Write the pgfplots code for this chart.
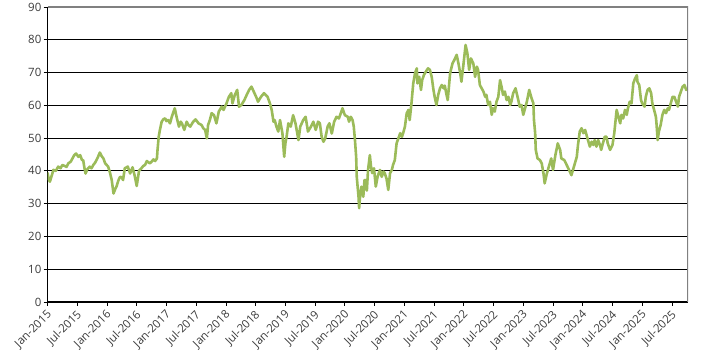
\documentclass[border=0pt]{standalone}
\usepackage{fontspec}
\setmainfont{Open Sans}
\usepackage{pgfplots}
\pgfplotsset{compat=1.18}
\definecolor{linegreen}{RGB}{155,187,89}
\definecolor{bordergray}{RGB}{128,128,128}
\definecolor{labelgray}{RGB}{60,60,60}
\pgfplotstableread{
x y
2015.00 39.5
2015.02 37.5
2015.04 36.7
2015.07 38.5
2015.10 40.3
2015.14 40.0
2015.18 41.3
2015.22 40.8
2015.25 41.8
2015.29 41.5
2015.32 41.2
2015.35 42.3
2015.39 42.8
2015.42 43.8
2015.45 44.8
2015.48 45.3
2015.52 44.3
2015.55 44.8
2015.58 43.3
2015.60 43.3
2015.62 41.0
2015.64 39.2
2015.67 40.5
2015.71 41.3
2015.74 40.8
2015.77 41.8
2015.80 42.5
2015.83 43.5
2015.85 44.3
2015.88 45.6
2015.91 44.5
2015.94 43.8
2015.97 42.3
2016.02 41.3
2016.05 39.5
2016.08 37.2
2016.11 33.1
2016.14 34.5
2016.16 35.2
2016.19 37.0
2016.22 38.2
2016.25 38.0
2016.27 37.2
2016.30 40.8
2016.35 41.3
2016.39 39.2
2016.43 41.1
2016.47 38.2
2016.50 35.4
2016.54 40.1
2016.58 40.8
2016.61 41.5
2016.64 41.8
2016.67 43.0
2016.72 42.3
2016.75 42.8
2016.78 43.5
2016.81 43.0
2016.84 43.8
2016.85 46.4
2016.87 50.4
2016.89 52.5
2016.92 55.0
2016.95 55.8
2016.98 56.0
2017.00 55.2
2017.03 55.5
2017.06 54.5
2017.09 56.5
2017.12 58.1
2017.14 59.1
2017.17 56.5
2017.19 55.0
2017.21 53.5
2017.24 55.0
2017.26 54.5
2017.30 52.5
2017.34 55.0
2017.37 54.0
2017.40 53.5
2017.45 55.0
2017.49 55.7
2017.54 54.5
2017.59 54.0
2017.62 53.0
2017.65 52.5
2017.68 49.9
2017.70 54.0
2017.73 55.5
2017.76 57.6
2017.80 57.0
2017.84 54.5
2017.88 58.1
2017.93 59.6
2017.96 58.6
2018.01 60.6
2018.05 62.6
2018.09 63.7
2018.11 60.6
2018.15 63.2
2018.19 64.7
2018.22 59.6
2018.26 60.1
2018.31 61.6
2018.35 63.2
2018.39 64.7
2018.43 65.7
2018.48 63.7
2018.52 62.1
2018.54 61.1
2018.59 62.6
2018.64 63.7
2018.70 62.6
2018.74 60.6
2018.77 58.6
2018.80 55.0
2018.82 55.5
2018.85 53.5
2018.88 52.0
2018.91 55.5
2018.95 51.5
2018.98 44.3
2019.00 48.4
2019.02 50.4
2019.05 54.5
2019.09 53.5
2019.13 57.0
2019.17 54.5
2019.22 49.4
2019.25 53.5
2019.30 55.5
2019.34 56.5
2019.38 52.0
2019.43 53.5
2019.47 55.0
2019.51 52.5
2019.55 55.0
2019.58 54.5
2019.61 50.4
2019.64 48.9
2019.67 49.9
2019.71 53.5
2019.74 54.5
2019.78 51.4
2019.82 55.0
2019.86 56.5
2019.90 56.0
2019.93 57.5
2019.96 59.1
2020.00 57.0
2020.05 56.5
2020.07 55.0
2020.10 56.5
2020.13 55.5
2020.15 53.5
2020.17 49.4
2020.19 44.3
2020.20 38.2
2020.23 32.1
2020.24 28.6
2020.26 33.1
2020.28 35.2
2020.31 32.1
2020.33 37.2
2020.35 37.2
2020.37 34.0
2020.39 40.3
2020.42 44.8
2020.44 41.3
2020.46 39.3
2020.49 40.8
2020.52 35.2
2020.55 38.2
2020.59 40.3
2020.62 38.2
2020.65 39.8
2020.67 39.3
2020.70 37.7
2020.73 34.2
2020.76 39.3
2020.79 40.3
2020.81 41.8
2020.84 43.3
2020.87 48.4
2020.90 49.9
2020.93 51.5
2020.96 50.4
2020.98 51.5
2021.01 53.5
2021.04 57.6
2021.07 58.6
2021.09 55.5
2021.12 60.6
2021.15 66.7
2021.18 69.8
2021.21 71.3
2021.22 66.7
2021.25 68.7
2021.28 64.7
2021.30 67.7
2021.33 69.3
2021.38 70.8
2021.40 71.3
2021.43 70.8
2021.46 68.7
2021.49 64.7
2021.51 62.6
2021.54 60.1
2021.57 63.2
2021.60 65.2
2021.63 66.2
2021.66 65.2
2021.68 66.0
2021.71 63.2
2021.73 61.6
2021.77 69.8
2021.81 72.8
2021.84 73.8
2021.88 75.4
2021.91 72.8
2021.94 69.8
2021.96 67.2
2021.99 71.8
2022.03 78.4
2022.06 75.9
2022.09 70.8
2022.12 74.3
2022.16 72.8
2022.19 68.7
2022.22 71.8
2022.24 70.8
2022.27 66.2
2022.30 65.2
2022.33 64.2
2022.36 62.6
2022.38 63.2
2022.41 60.1
2022.44 61.1
2022.47 57.1
2022.49 59.1
2022.52 58.1
2022.55 61.1
2022.58 62.6
2022.61 67.7
2022.64 65.2
2022.66 63.2
2022.69 64.2
2022.72 61.6
2022.75 62.6
2022.78 60.1
2022.80 61.1
2022.83 63.7
2022.87 65.2
2022.91 62.1
2022.94 59.6
2022.97 60.1
2023.00 57.1
2023.03 59.1
2023.06 61.1
2023.10 64.7
2023.14 62.1
2023.17 60.6
2023.18 55.5
2023.20 51.5
2023.21 46.4
2023.24 43.8
2023.28 43.3
2023.31 42.3
2023.34 39.2
2023.36 36.2
2023.39 38.7
2023.43 41.3
2023.47 43.8
2023.50 40.3
2023.54 44.8
2023.58 48.4
2023.62 46.4
2023.64 43.8
2023.69 43.3
2023.73 41.8
2023.77 40.3
2023.81 38.7
2023.86 41.8
2023.90 44.3
2023.92 47.9
2023.95 52.0
2023.98 53.0
2024.01 51.5
2024.04 52.5
2024.08 49.9
2024.12 47.4
2024.15 48.9
2024.18 47.9
2024.20 49.4
2024.23 47.4
2024.26 49.4
2024.29 47.9
2024.31 46.4
2024.34 48.5
2024.37 50.4
2024.40 50.4
2024.42 48.4
2024.46 46.4
2024.50 47.9
2024.53 51.5
2024.57 58.6
2024.60 56.5
2024.63 54.5
2024.65 57.1
2024.68 56.0
2024.71 58.6
2024.74 57.1
2024.76 59.1
2024.79 61.1
2024.82 60.6
2024.85 66.7
2024.88 68.2
2024.91 69.2
2024.92 67.2
2024.95 66.2
2024.98 61.6
2025.00 60.6
2025.04 59.6
2025.06 62.6
2025.09 64.7
2025.12 65.2
2025.15 63.7
2025.17 60.6
2025.20 58.6
2025.23 56.5
2025.24 54.5
2025.26 49.4
2025.28 52.0
2025.31 54.0
2025.34 57.1
2025.37 58.6
2025.40 57.6
2025.43 59.1
2025.45 58.6
2025.48 60.6
2025.51 62.6
2025.54 62.6
2025.57 61.1
2025.60 59.6
2025.62 62.6
2025.65 64.2
2025.68 65.7
2025.71 66.2
2025.74 64.7
2025.76 65.0
}\datatable
\begin{document}
\begin{tikzpicture}
\begin{axis}[
  scale only axis,
  width=640.5bp, height=295bp,
  xmin=2015, xmax=2025.77, ymin=0, ymax=90,
  axis x line*=bottom, axis y line*=left,
  axis line style={-, black, line width=1bp},
  ytick={0,10,20,30,40,50,60,70,80,90},
  xtick={2015,2015.5,2016,2016.5,2017,2017.5,2018,2018.5,2019,2019.5,2020,2020.5,2021,2021.5,2022,2022.5,2023,2023.5,2024,2024.5,2025,2025.5},
  xticklabels={Jan-2015,Jul-2015,Jan-2016,Jul-2016,Jan-2017,Jul-2017,Jan-2018,Jul-2018,Jan-2019,Jul-2019,Jan-2020,Jul-2020,Jan-2021,Jul-2021,Jan-2022,Jul-2022,Jan-2023,Jul-2023,Jan-2024,Jul-2024,Jan-2025,Jul-2025},
  tick align=outside, major tick length=4bp,
  tick style={black, line width=0.8bp},
  ymajorgrids, grid style={black, line width=0.9bp},
  tick label style={font=\fontsize{11.5}{13}\selectfont, text=labelgray},
  /pgf/number format/assume math mode=true,
  xticklabel style={xshift=2.5bp, yshift=-7bp, rotate=45, anchor=east, inner sep=0pt},
  yticklabel style={inner sep=2pt},
]
\addplot[color=linegreen, line width=2.6bp, line join=round] table[x=x, y=y] {\datatable};
\draw[bordergray, line width=1.6bp] (rel axis cs:0,1) -- (rel axis cs:1,1) -- (rel axis cs:1,0);
\coordinate (sw) at (rel axis cs:0,0);
\coordinate (ne) at (rel axis cs:1,1);
\end{axis}
\path ([shift={(-47.5bp,-59bp)}]sw) rectangle ([shift={(19bp,7bp)}]ne);
\end{tikzpicture}
\end{document}
